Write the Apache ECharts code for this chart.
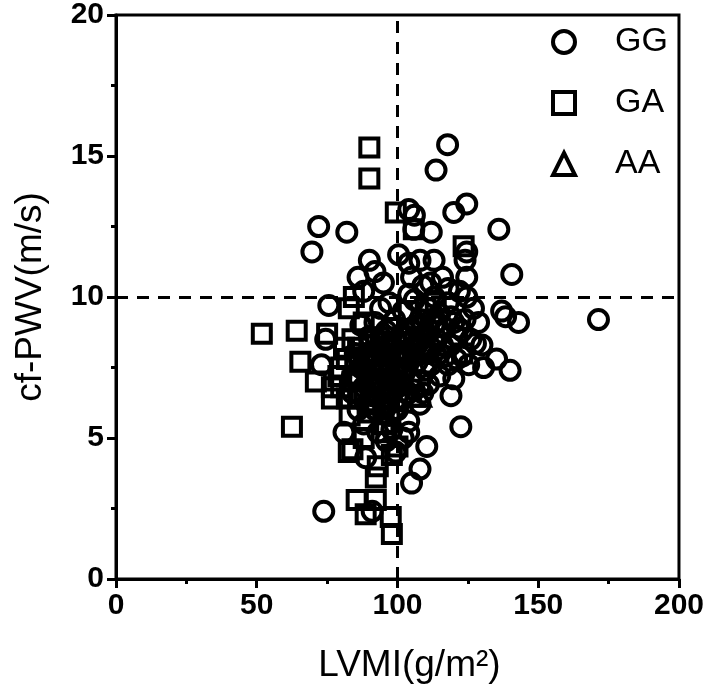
<!DOCTYPE html>
<html><head><meta charset="utf-8">
<script src="https://cdn.jsdelivr.net/npm/echarts@6/dist/echarts.min.js"></script>
<style>html,body{margin:0;padding:0;background:#fff}#c{width:707px;height:696px}</style>
</head><body><div id="c"></div>
<script>
const xTicks = [0, 50, 100, 150, 200];
const yTicks = [0, 5, 10, 15, 20];
const xName = 'LVMI(g/m²)';
const yName = 'cf-PWV(m/s)';
const refX = 100, refY = 10;

const GG = [
[117.8,15.4],[113.7,14.5],[104,13.1],[106,12.9],[120,13.0],[124.6,13.3],[72,12.5],[82,12.3],[69.6,11.6],
[136,12.4],[112,12.3],[105.8,12.4],[124.6,11.6],[100.4,11.5],[104,11.2],[140.6,10.8],[75.6,9.7],[74.5,8.5],
[73,7.6],[86,10.7],[171.4,9.2],[143,9.1],[137,9.5],[138.4,9.3],[124.6,10.7],[124.6,10.0],[128.8,9.1],[124,9.2],
[121.7,8.9],[130,8.3],[127.7,8.35],[135.2,7.8],[140,7.4],[125.3,7.6],[130.6,7.5],[119,6.5],[122.5,5.4],[110.4,4.7],
[108,3.9],[105,3.4],[81,5.2],[73.8,2.4],[91,2.4],[99.4,4.5],[88.7,4.3],[105,10.7],[111.8,10.5],[118,10.3],[113,11.3],
[124,11.3],[108,11.3],[90,11.3],[92,10.9],[88,10.2],[95,10.5],[97,9.8],
[85,8.0],[87,7.5],[88,6.8],[89,7.9],[90,7.2],[90,8.6],[91,6.5],[92,7.7],[92,9.1],[93,6.9],[93,8.2],[94,7.4],
[94,9.6],[95,6.2],[95,8.0],[96,7.1],[96,8.8],[97,5.8],[97,7.6],[98,6.6],[98,8.3],[99,7.3],[99,9.2],[100,6.0],
[100,7.9],[101,8.6],[101,7.0],[102,9.5],[102,6.4],[103,8.1],[103,7.4],[104,10.1],[104,5.6],[105,8.8],[105,7.1],
[106,9.9],[106,6.7],[107,8.3],[107,7.7],[108,9.2],[108,6.2],[109,8.0],[109,10.4],[110,7.4],[110,8.7],[111,9.6],
[111,6.9],[112,8.2],[112,7.6],[113,9.0],[113,10.0],[114,7.9],[114,8.5],[115,9.4],[115,7.2],[116,8.3],[116,10.7],
[117,8.9],[118,7.6],[118,9.8],[119,8.3],[120,9.1],[120,7.1],[121,8.6],[122,10.2],[123,7.9],[123,8.8],[126,8.5],
[127,9.6],[88,5.5],[93,5.2],[96,4.9],[102,5.0],[104,5.2],[86,6.0],[84,7.2],[91,7.0],[89,6.2],[94,8.6],[97,6.9],
[100,8.4],[102,7.2],[106,7.9],[109,6.6],[111,8.0],[87,9.0],[84,6.6],
[89,7.3],[90,6.8],[91,7.6],[92,7.1],[93,7.9],[94,7.0],[95,7.5],[96,6.6],[97,8.2],[98,7.1],[99,7.9],[100,7.3],
[101,8.0],[102,7.7],[103,8.6],[104,7.9],[105,8.2],[106,8.5],[107,9.0],[108,8.6],[109,9.0],[110,8.2],[111,8.9],
[112,9.2],[114,9.1],[115,8.0],[117,7.9],[119,9.3],[121,7.8],[104,6.6],[100,6.8],[96,6.1],[92,6.0],[98,5.3]
];
const GA = [
[90,15.3],[90,14.2],[99.4,13.0],[105.8,12.4],[123.5,11.8],[82.7,9.6],[84.5,10.0],[51.8,8.7],[64.2,8.8],[75,8.7],
[65.5,7.7],[71,7.0],[76.7,6.8],[76.7,6.4],[62.5,5.4],[82.7,4.5],[84,4.6],[92.3,3.6],[85.5,2.8],[88.7,2.3],
[92.3,2.8],[97.6,2.2],[98,1.6],[95,5.5],[93,4.0],[80,7.5],[82,6.4],[84,7.0],[86,8.2],[88,9.1],[90,5.9],[95,6.0],
[98,8.9],[104,9.5],[106,8.0],[108,7.0],[113.6,9.8],[100,6.3],[97,7.5],[92,6.3],[87,6.6],[81,8.2],[79,7.2],[83,5.8],
[110,9.6],[123,8.0],[98,4.4],[100,4.7],[89,7.6],[91,8.0],[85,7.6],[94,6.8],[96,5.2],[102,8.4],[88,5.0],
[82,7.8],[84,8.5],[86,7.1],[88,7.8],[90,8.3],[91,6.2],[93,7.4],[95,8.4],[97,6.4],[99,8.0],[86,6.4],[80,6.8]
];
const AA = [[105.5,6.5],[108,6.5]];

const hollow = {color:'rgba(0,0,0,0)', borderColor:'#000', borderWidth:4, opacity:1};
const chart = echarts.init(document.getElementById('c'));
chart.setOption({
  animation:false,
  grid:{left:116, right:28, top:15, bottom:117, show:true, borderColor:'#000', borderWidth:3, backgroundColor:'rgba(0,0,0,0)'},
  legend:{
    orient:'vertical', left:546, top:20, itemWidth:22, itemHeight:22, itemGap:27,
    itemStyle:{borderWidth:4, borderColor:'#000', color:'rgba(0,0,0,0)', opacity:1},
    textStyle:{fontFamily:'Liberation Sans', fontSize:34, color:'#000', padding:[0,0,0,35], lineHeight:22},
    data:['GG','GA','AA']
  },
  xAxis:{
    type:'value', min:0, max:200, interval:50,
    name:xName, nameLocation:'middle', nameGap:68,
    nameTextStyle:{fontFamily:'Liberation Sans', fontSize:37, color:'#000', padding:[0,0,0,24]},
    axisLine:{lineStyle:{color:'#000', width:3}},
    axisTick:{length:9, lineStyle:{width:3, color:'#000'}},
    minorTick:{show:true, splitNumber:2, length:5, lineStyle:{width:3, color:'#000'}},
    splitLine:{show:false},
    axisLabel:{fontFamily:'Liberation Sans', fontWeight:'bold', fontSize:30, color:'#000', margin:12,
      formatter:v=>xTicks.includes(v)?String(v):''}
  },
  yAxis:{
    type:'value', min:0, max:20, interval:5,
    name:yName, nameLocation:'middle', nameGap:67,
    nameTextStyle:{fontFamily:'Liberation Sans', fontSize:37, color:'#000'},
    axisLine:{lineStyle:{color:'#000', width:3}},
    axisTick:{length:9, lineStyle:{width:3, color:'#000'}},
    minorTick:{show:true, splitNumber:2, length:5, lineStyle:{width:3, color:'#000'}},
    splitLine:{show:false},
    axisLabel:{fontFamily:'Liberation Sans', fontWeight:'bold', fontSize:30, color:'#000', margin:12,
      formatter:v=>yTicks.includes(v)?String(v):''}
  },
  series:[
    {name:'GG', type:'scatter', symbol:'circle', symbolSize:19, data:GG, itemStyle:hollow,
     markLine:{silent:true, symbol:'none', label:{show:false},
       lineStyle:{color:'#000', width:3, type:[12,9]},
       data:[{xAxis:refX},{yAxis:refY}]}},
    {name:'GA', type:'scatter', symbol:'rect', symbolSize:18, data:GA, itemStyle:hollow},
    {name:'AA', type:'scatter', symbol:'triangle', symbolSize:20, data:AA, itemStyle:hollow}
  ]
});
</script></body></html>
